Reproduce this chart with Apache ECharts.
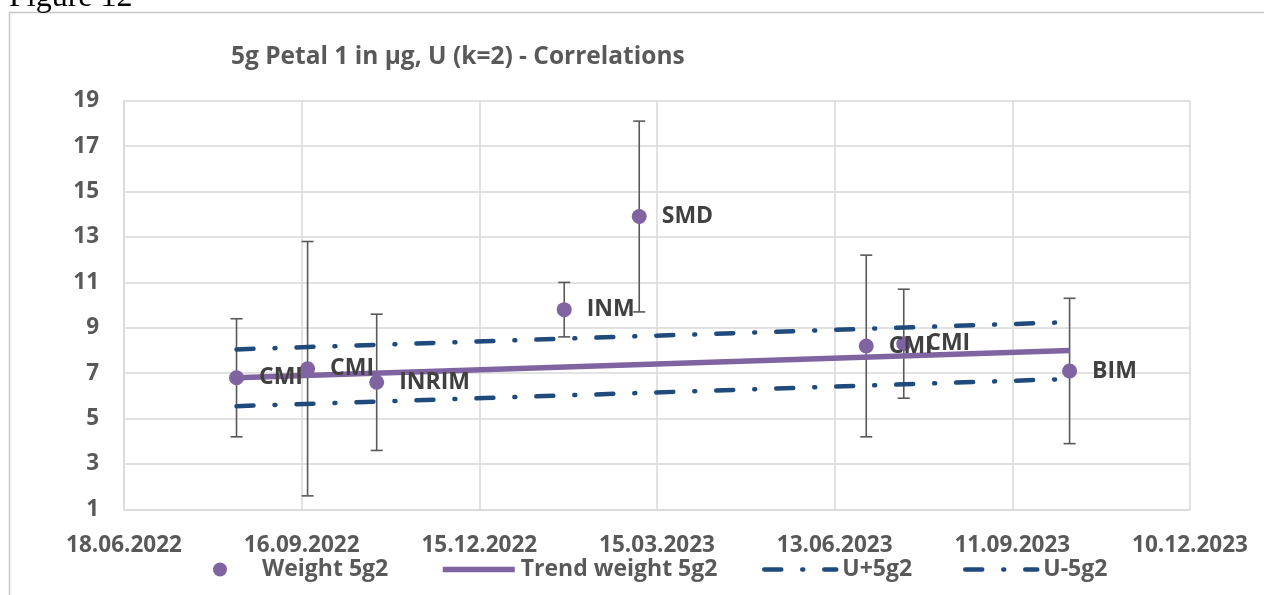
<!DOCTYPE html>
<html>
<head>
<meta charset="utf-8">
<script src="https://cdn.jsdelivr.net/npm/echarts@6/dist/echarts.min.js"></script>
<style>
html,body{margin:0;padding:0;background:#fff;}
#chart{width:1264px;height:595px;}
</style>
</head>
<body>
<div id="chart"></div>
<script>
// ---- data ----
const labs = ['CMI', 'CMI', 'INRIM', 'INM', 'SMD', 'CMI', 'CMI', 'BIM'];
const dates = ['14.08.2022', '19.09.2022', '24.10.2022', '27.01.2023', '06.03.2023', '29.06.2023', '18.07.2023', '10.10.2023'];
const weights = [6.8, 7.2, 6.6, 9.8, 13.9, 8.2, 8.3, 7.1];
const uncertainty = [2.6, 5.6, 3.0, 1.2, 4.2, 4.0, 2.4, 3.2];
const trendDates = ['14.08.2022', '10.10.2023'];
const trendValues = [6.8, 8.0];
const uPlusValues = [8.05, 9.25];
const uMinusValues = [5.55, 6.75];
const xAxisStart = '18.06.2022';
const xAxisEnd = '10.12.2023';
const xTickDays = 90;
const yTicks = [1, 3, 5, 7, 9, 11, 13, 15, 17, 19];

// Excel-style serial day numbers
const EPOCH = Date.UTC(1899, 11, 30);
function toSerial(s) {
  const [d, m, y] = s.split('.').map(Number);
  return Math.round((Date.UTC(y, m - 1, d) - EPOCH) / 86400000);
}
function fromSerial(n) {
  const dt = new Date(EPOCH + n * 86400000);
  const p = v => String(v).padStart(2, '0');
  return p(dt.getUTCDate()) + '.' + p(dt.getUTCMonth() + 1) + '.' + dt.getUTCFullYear();
}

const xs = dates.map(toSerial);
const pts = xs.map((x, i) => [x, weights[i], labs[i]]);
const errs = xs.map((x, i) => [x, weights[i] - uncertainty[i], weights[i] + uncertainty[i]]);
const tx = trendDates.map(toSerial);
const trend = tx.map((x, i) => [x, trendValues[i]]);
const uplus = tx.map((x, i) => [x, uPlusValues[i]]);
const uminus = tx.map((x, i) => [x, uMinusValues[i]]);

const FONT = '"Open Sans", "Liberation Sans", sans-serif';
const PURPLE = '#8064a2';
const BLUE = '#1f4a7c';
const GRID = '#d9d9d9';
const dashDot = [17, 21, 1, 21];

const legendText = {fontFamily: FONT, fontSize: 23, fontWeight: 'bold', color: '#595959', padding: [0, 0, 0, 1]};
function legendAt(left, item) {
  return {left: left, top: 553, itemWidth: 72, itemHeight: 14, itemGap: 0,
          textStyle: legendText, data: [item]};
}

const chart = echarts.init(document.getElementById('chart'), null, {renderer: 'canvas'});
chart.setOption({
  animation: false,
  backgroundColor: '#fff',
  textStyle: {fontFamily: FONT},
  title: {
    text: '5g Petal 1 in µg, U (k=2) - Correlations',
    left: 226, top: 40,
    textStyle: {fontFamily: FONT, fontSize: 24.5, fontWeight: 'bold', color: '#595959'}
  },
  graphic: [
    {type: 'rect', shape: {x: 9.5, y: 12.5, width: 1400, height: 800},
     style: {fill: null, stroke: '#c8c8c8', lineWidth: 1.5}, silent: true, z: -1},
    {type: 'text', left: 9, top: -18,
     style: {text: 'Figure 12', font: '32px "Liberation Serif", serif', fill: '#000'}}
  ],
  grid: {left: 124, right: 74, top: 100.7, bottom: 85.5, containLabel: false, outerBoundsMode: 'none'},
  xAxis: {
    type: 'value',
    min: toSerial(xAxisStart), max: toSerial(xAxisEnd), interval: xTickDays,
    axisLine: {show: true, lineStyle: {color: GRID, width: 1.5}},
    axisTick: {show: false},
    splitLine: {show: true, lineStyle: {color: GRID, width: 1.5}},
    axisLabel: {formatter: v => fromSerial(v), fontFamily: FONT, fontSize: 22.5, fontWeight: 'bold', color: '#595959', margin: 25}
  },
  yAxis: {
    type: 'value',
    min: yTicks[0], max: yTicks[yTicks.length - 1], interval: yTicks[1] - yTicks[0],
    axisLine: {show: true, lineStyle: {color: GRID, width: 1.5}},
    axisTick: {show: false},
    splitLine: {show: true, lineStyle: {color: GRID, width: 1.5}},
    axisLabel: {fontFamily: FONT, fontSize: 22.5, fontWeight: 'bold', color: '#595959', margin: 25}
  },
  legend: [
    legendAt(208, {name: 'Weight 5g2', icon: 'circle'}),
    legendAt(435, {name: 'Trend weight 5g2', itemStyle: {opacity: 0}, lineStyle: {width: 5.5}}),
    legendAt(757, {name: 'U+5g2', itemStyle: {opacity: 0}, lineStyle: {width: 4.5}}),
    legendAt(958, {name: 'U-5g2', itemStyle: {opacity: 0}, lineStyle: {width: 4.5}})
  ],
  series: [
    {
      type: 'custom', name: 'err', silent: true, z: 1,
      data: errs,
      renderItem: function (params, api) {
        const x = api.value(0);
        const lo = api.coord([x, api.value(1)]);
        const hi = api.coord([x, api.value(2)]);
        const cw = 6;
        const st = {stroke: '#595959', lineWidth: 1.6};
        return {type: 'group', children: [
          {type: 'line', shape: {x1: lo[0], y1: lo[1], x2: hi[0], y2: hi[1]}, style: st},
          {type: 'line', shape: {x1: lo[0] - cw, y1: lo[1], x2: lo[0] + cw, y2: lo[1]}, style: st},
          {type: 'line', shape: {x1: hi[0] - cw, y1: hi[1], x2: hi[0] + cw, y2: hi[1]}, style: st}
        ]};
      }
    },
    {
      type: 'line', name: 'U+5g2', data: uplus, symbol: 'none', z: 2,
      lineStyle: {color: BLUE, width: 4.5, type: dashDot, cap: 'round'},
      itemStyle: {color: BLUE}
    },
    {
      type: 'line', name: 'U-5g2', data: uminus, symbol: 'none', z: 2,
      lineStyle: {color: BLUE, width: 4.5, type: dashDot, cap: 'round'},
      itemStyle: {color: BLUE}
    },
    {
      type: 'line', name: 'Trend weight 5g2', data: trend, symbol: 'none', z: 3,
      lineStyle: {color: PURPLE, width: 5.5},
      itemStyle: {color: PURPLE}
    },
    {
      type: 'scatter', name: 'Weight 5g2', data: pts, symbolSize: 15, z: 4,
      itemStyle: {color: PURPLE, opacity: 1},
      label: {
        show: true, position: 'right', distance: 15,
        formatter: p => p.data[2],
        fontFamily: FONT, fontSize: 23, fontWeight: 'bold', color: '#404040', offset: [0, 2]
      },
      labelLayout: {hideOverlap: false}
    }
  ]
});
</script>
</body>
</html>
